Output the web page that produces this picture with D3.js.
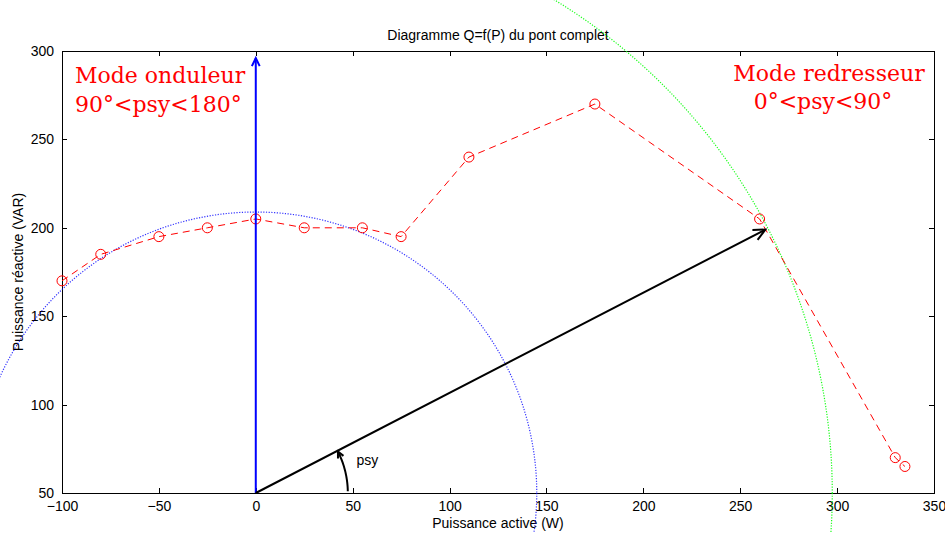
<!DOCTYPE html>
<html>
  <head>
    <title>Diagramme Q=f(P)</title>
    <meta charset="utf-8">
    <style>
      body { margin: 0; background: #fff; }
      svg { display: block; }
      .axis text { font: 14px "Liberation Sans", Arial, sans-serif; fill: #000; }
      .axis path, .axis line { stroke: #000; shape-rendering: crispEdges; }
      .lbl { font: 14px "Liberation Sans", Arial, sans-serif; fill: #000; }
      .mode { font: 22px "DejaVu Serif", serif; fill: #ff0000; }
    </style>
  </head>
  <body>
  <svg id="chart"></svg>
  <script src="https://d3js.org/d3.v7.min.js"></script>
  <script>
  // measured points Q=f(P)
  var pValues = [-100, -80, -50, -25, 0, 25, 55, 75, 110, 175, 260, 330, 335];
  var qValues = [170, 185, 195, 200, 205, 200, 200, 195, 240, 270, 205, 70, 65];

  var xTicks = [-100, -50, 0, 50, 100, 150, 200, 250, 300, 350];
  var yTicks = [50, 100, 150, 200, 250, 300];

  // vectors from origin (0,50)
  var origin = [0, 50];
  var blueTip = [0, 296];
  var blackTip = [263, 199];
  // circle radii, in P units
  var blueRadius = [145];
  var greenRadius = [297.5];
  var psyRadius = [47.5];

  var width = 945, height = 533;
  var margin = {top: 51, right: 11, bottom: 40, left: 62};
  var w = width - margin.left - margin.right;
  var h = height - margin.top - margin.bottom;

  var svg = d3.select("#chart").attr("width", width).attr("height", height);

  var x = d3.scaleLinear().domain([-100, 350]).range([margin.left, margin.left + w]);
  var y = d3.scaleLinear().domain([50, 300]).range([margin.top + h, margin.top]);

  // axes box with inward ticks (matlab style)
  svg.append("g").attr("class", "axis")
    .attr("transform", "translate(0," + (margin.top + h) + ")")
    .call(d3.axisBottom(x).tickValues(xTicks).tickSizeInner(-5).tickSizeOuter(0).tickPadding(8));
  svg.append("g").attr("class", "axis")
    .attr("transform", "translate(0," + margin.top + ")")
    .call(d3.axisTop(x).tickValues(xTicks).tickSizeInner(-5).tickSizeOuter(0).tickFormat(""));
  svg.append("g").attr("class", "axis")
    .attr("transform", "translate(" + margin.left + ",0)")
    .call(d3.axisLeft(y).tickValues(yTicks).tickSizeInner(-5).tickSizeOuter(0).tickPadding(8));
  svg.append("g").attr("class", "axis")
    .attr("transform", "translate(" + (margin.left + w) + ",0)")
    .call(d3.axisRight(y).tickValues(yTicks).tickSizeInner(-5).tickSizeOuter(0).tickFormat(""));

  // title and labels
  svg.append("text").attr("class", "lbl")
    .attr("x", margin.left + w / 2).attr("y", 40)
    .attr("text-anchor", "middle")
    .text("Diagramme Q=f(P) du pont complet");
  svg.append("text").attr("class", "lbl")
    .attr("x", margin.left + w / 2).attr("y", 528)
    .attr("text-anchor", "middle")
    .text("Puissance active (W)");
  svg.append("text").attr("class", "lbl")
    .attr("transform", "translate(23," + (margin.top + h / 2) + ") rotate(-90)")
    .attr("text-anchor", "middle")
    .text("Puissance réactive (VAR)");

  var ox = x(origin[0]), oy = y(origin[1]);

  // dotted circles (not clipped, like the original)
  svg.append("circle")
    .attr("cx", ox).attr("cy", oy)
    .attr("r", x(blueRadius[0]) - x(0))
    .attr("fill", "none").attr("stroke", "#0000ff")
    .attr("stroke-width", 1.2).attr("stroke-dasharray", "1.2,1.5")
    .attr("opacity", 0.8);
  svg.append("circle")
    .attr("cx", ox).attr("cy", oy)
    .attr("r", x(greenRadius[0]) - x(0))
    .attr("fill", "none").attr("stroke", "#00ff00")
    .attr("stroke-width", 1.2).attr("stroke-dasharray", "1.2,1.5")
    .attr("opacity", 0.9);

  // red dashed curve with circle markers
  var data = pValues.map(function(p, i) { return [p, qValues[i]]; });
  var line = d3.line().x(function(d) { return x(d[0]); }).y(function(d) { return y(d[1]); });
  svg.append("path").datum(data)
    .attr("d", line)
    .attr("fill", "none").attr("stroke", "#ff0000")
    .attr("stroke-width", 1).attr("stroke-dasharray", "7,5");
  svg.selectAll(".pt").data(data).enter().append("circle")
    .attr("class", "pt")
    .attr("cx", function(d) { return x(d[0]); })
    .attr("cy", function(d) { return y(d[1]); })
    .attr("r", 5)
    .attr("fill", "none").attr("stroke", "#ff0000").attr("stroke-width", 1);

  // arrow heads: open V like quiver
  function head(tx, ty, ang, len, color) {
    var a1 = ang + Math.PI - 0.45, a2 = ang + Math.PI + 0.45;
    svg.append("path")
      .attr("d", "M" + (tx + len * Math.cos(a1)) + "," + (ty + len * Math.sin(a1)) +
        "L" + tx + "," + ty +
        "L" + (tx + len * Math.cos(a2)) + "," + (ty + len * Math.sin(a2)))
      .attr("fill", "none").attr("stroke", color).attr("stroke-width", 2);
  }

  // blue vertical vector
  svg.append("line")
    .attr("x1", ox).attr("y1", oy).attr("x2", x(blueTip[0])).attr("y2", y(blueTip[1]))
    .attr("stroke", "#0000ff").attr("stroke-width", 2);
  head(x(blueTip[0]), y(blueTip[1]), -Math.PI / 2, 9, "#0000ff");

  // black vector
  var bx = x(blackTip[0]), by = y(blackTip[1]);
  svg.append("line")
    .attr("x1", ox).attr("y1", oy).attr("x2", bx).attr("y2", by)
    .attr("stroke", "#000").attr("stroke-width", 2);
  var bAng = Math.atan2(by - oy, bx - ox);
  head(bx, by, bAng, 13, "#000");

  // psy angle arc
  var pr = x(psyRadius[0]) - x(0);
  var arcPts = d3.range(0, 31).map(function(i) {
    var t = 0.02 + (bAng * -1 - 0.03) * i / 30;
    return [ox + pr * Math.cos(t), oy - pr * Math.sin(t)];
  });
  svg.append("path").datum(arcPts)
    .attr("d", d3.line())
    .attr("fill", "none").attr("stroke", "#000").attr("stroke-width", 2);
  var last = arcPts[arcPts.length - 1], prev = arcPts[arcPts.length - 3];
  head(last[0], last[1], Math.atan2(last[1] - prev[1], last[0] - prev[0]), 7, "#000");
  svg.append("text").attr("class", "lbl")
    .attr("x", x(52)).attr("y", y(66))
    .attr("font-size", "15px")
    .text("psy");

  // mode annotations
  svg.append("text").attr("class", "mode").attr("x", 75).attr("y", 83).text("Mode onduleur");
  svg.append("text").attr("class", "mode").attr("x", 75).attr("y", 112).text("90°<psy<180°");
  svg.append("text").attr("class", "mode").attr("x", 829).attr("y", 81)
    .attr("text-anchor", "middle").text("Mode redresseur");
  svg.append("text").attr("class", "mode").attr("x", 823).attr("y", 109)
    .attr("text-anchor", "middle").text("0°<psy<90°");
  </script>
  </body>
</html>
